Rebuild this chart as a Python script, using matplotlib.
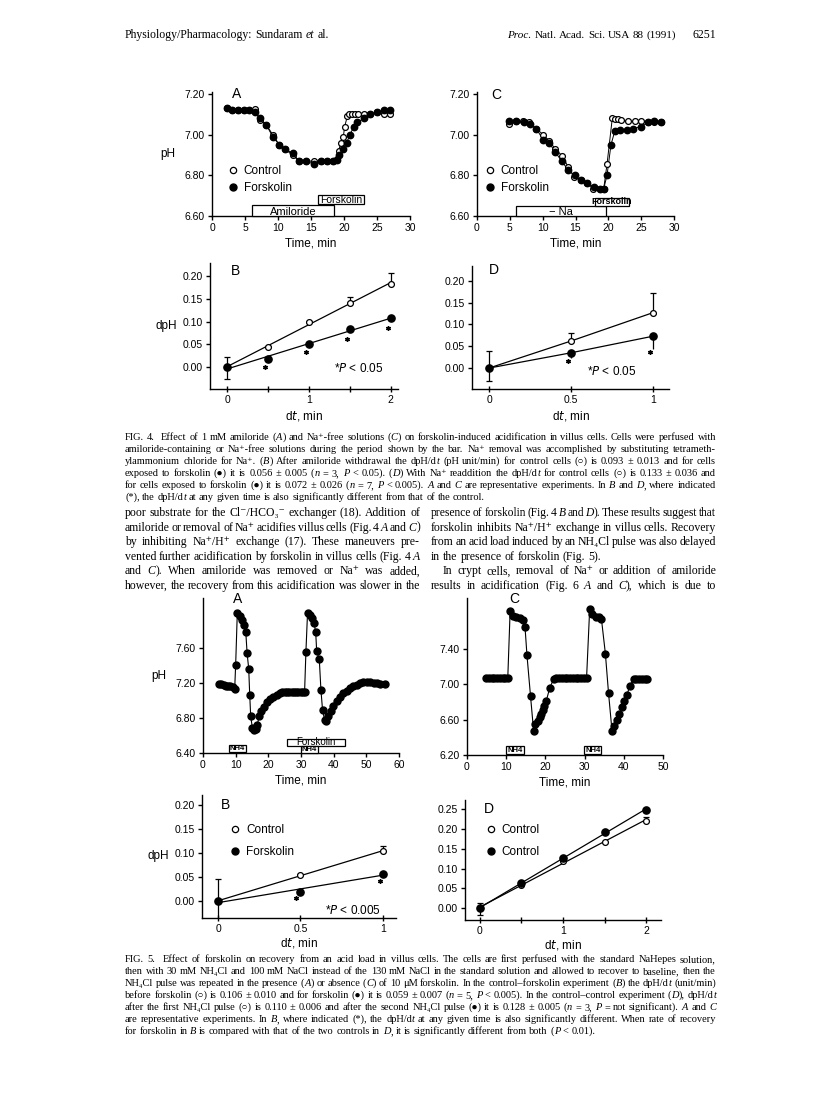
import matplotlib
matplotlib.use('Agg')
import numpy as np
import matplotlib.pyplot as plt
from matplotlib.patches import Rectangle
from matplotlib.lines import Line2D

W, H = 816, 1105
SANS = ['Liberation Sans', 'DejaVu Sans']
SERIF = ['Liberation Serif', 'DejaVu Serif', 'DejaVu Sans']
plt.rcParams['font.family'] = SANS

################################
# Data
################################
# Fig 4A: amiloride, villus cells
t4a_ctl = [2.3, 3.1, 4.0, 4.8, 5.6, 6.5, 7.3, 8.2, 9.2, 10.2, 11.0, 12.2, 13.2, 14.3, 15.4, 16.5, 17.4,
           18.3, 18.9, 19.2, 19.5, 19.9, 20.1, 20.5, 20.8, 21.2, 21.6, 22.1, 23.0, 24.0, 25.0, 26.0, 27.0]
ph4a_ctl = [7.13, 7.12, 7.12, 7.12, 7.12, 7.125, 7.07, 7.05, 7.00, 6.95, 6.93, 6.90, 6.87, 6.87, 6.87, 6.87,
            6.87, 6.87, 6.88, 6.92, 6.96, 6.99, 7.04, 7.09, 7.10, 7.10, 7.10, 7.10, 7.10, 7.10, 7.11, 7.10, 7.10]
t4a_fsk = [2.3, 3.1, 4.0, 4.8, 5.6, 6.5, 7.3, 8.2, 9.2, 10.2, 11.0, 12.2, 13.2, 14.3, 15.4, 16.5, 17.4,
           18.3, 18.9, 19.3, 19.9, 20.4, 20.9, 21.5, 22.0, 23.0, 24.0, 25.0, 26.0, 27.0]
ph4a_fsk = [7.13, 7.12, 7.12, 7.12, 7.12, 7.11, 7.08, 7.05, 6.99, 6.95, 6.93, 6.91, 6.87, 6.87, 6.855, 6.87,
            6.87, 6.87, 6.875, 6.90, 6.93, 6.96, 7.00, 7.04, 7.06, 7.08, 7.10, 7.11, 7.12, 7.12]
bars4a = [(6.0, 18.5, 'Amiloride'), (16.0, 23.0, 'Forskolin')]

# Fig 4C: Na-free, villus cells
t4c_ctl = [4.9, 6.0, 7.0, 7.9, 9.0, 10.1, 11.0, 11.9, 13.0, 13.9, 14.8, 15.8, 16.8, 17.7, 18.7, 19.3,
           19.8, 20.6, 21.0, 21.5, 22.0, 23.0, 24.0, 24.9, 26.0, 27.0, 28.0]
ph4c_ctl = [7.055, 7.065, 7.065, 7.06, 7.03, 7.00, 6.97, 6.93, 6.895, 6.84, 6.79, 6.775, 6.76, 6.735,
            6.735, 6.735, 6.855, 7.08, 7.075, 7.075, 7.07, 7.065, 7.065, 7.065, 7.06, 7.06, 7.06]
t4c_fsk = [4.9, 6.0, 7.1, 8.0, 9.0, 10.1, 11.0, 11.9, 12.9, 13.9, 14.9, 15.8, 16.8, 17.8, 18.7, 19.3,
           19.8, 20.4, 21.0, 21.8, 22.8, 23.8, 24.9, 26.0, 26.9, 28.0]
ph4c_fsk = [7.065, 7.065, 7.06, 7.055, 7.03, 6.975, 6.96, 6.915, 6.87, 6.825, 6.80, 6.775, 6.76, 6.745,
            6.735, 6.735, 6.80, 6.95, 7.02, 7.025, 7.025, 7.03, 7.04, 7.06, 7.065, 7.06]
bars4c = [(6.0, 19.6, '\u2212 Na'), (17.9, 23.2, 'Forskolin')]

# Fig 4B / 4D: dpH vs dt
dt4b = [0, 0.5, 1, 1.5, 2]
ctl4b = [0, 0.044, 0.099, 0.142, 0.182]
fsk4b = [0, 0.018, 0.051, 0.083, 0.107]
ctl4b_up = [0.023, 0.003, 0.003, 0.012, 0.025]
ctl4b_dn = [0.025, 0, 0, 0, 0]
fsk4b_dn = [0, 0.004, 0.003, 0.003, 0.006]
star4b_x = [0.47, 0.97, 1.47, 1.97]
star4b_y = [0.0, 0.033, 0.062, 0.086]

dt4d = [0, 0.5, 1]
ctl4d = [0, 0.062, 0.127]
fsk4d = [0, 0.035, 0.073]
ctl4d_up = [0.04, 0.018, 0.045]
ctl4d_dn = [0.03, 0, 0]
fsk4d_dn = [0, 0.012, 0.03]
star4d_x = [0.48, 0.98]
star4d_y = [0.016, 0.036]

# Fig 5A: NH4Cl pulses, forskolin on second pulse
t5a = [4.9, 5.6, 6.3, 7.0, 7.7, 8.4, 9.1, 9.7, 10.0, 10.5, 11.2, 11.9, 12.6, 13.1, 13.5, 14.0,
       14.3, 14.6, 15.1, 15.6, 16.1, 16.6, 17.2, 17.9, 18.7, 19.7, 20.5, 21.5, 22.5, 23.5, 24.3, 25.0,
       25.7, 26.4, 27.1, 27.8, 28.5, 29.2, 29.9, 30.6, 31.1, 31.5, 32.0, 32.7, 33.4, 34.0, 34.5, 34.8,
       35.6, 36.1, 36.6, 37.2, 37.7, 38.4, 39.2, 39.9, 40.9, 42.0, 43.0, 44.0, 45.0, 46.0, 47.1, 48.1,
       49.1, 50.2, 51.2, 52.2, 53.2, 54.2, 55.8]
ph5a = [7.19, 7.185, 7.18, 7.17, 7.165, 7.16, 7.15, 7.13, 7.41, 8.00, 7.97, 7.92, 7.86, 7.78, 7.54, 7.36,
        7.065, 6.82, 6.69, 6.66, 6.67, 6.72, 6.82, 6.88, 6.93, 6.98, 7.015, 7.04, 7.06, 7.085, 7.095, 7.10,
        7.10, 7.10, 7.10, 7.10, 7.10, 7.10, 7.10, 7.10, 7.10, 7.55, 8.00, 7.98, 7.94, 7.88, 7.78, 7.56,
        7.47, 7.12, 6.89, 6.78, 6.76, 6.82, 6.88, 6.94, 6.99, 7.04, 7.085, 7.11, 7.14, 7.16, 7.18, 7.20,
        7.21, 7.21, 7.21, 7.20, 7.20, 7.19, 7.19]
nh4_5a = [(8.0, 13.1), (30.0, 35.2)]
fsk_5a = (25.8, 43.5)

# Fig 5C: NH4Cl pulses, no forskolin
t5c = [4.9, 5.6, 6.3, 7.0, 7.7, 8.4, 9.1, 9.8, 10.4, 11.0, 11.8, 12.6, 13.4, 14.2, 14.8,
       15.3, 16.2, 17.0, 17.4, 18.0, 18.5, 18.9, 19.3, 19.7, 20.2, 21.1, 22.1,
       22.8, 23.5, 24.2, 24.9, 25.6, 26.3, 27.0, 27.7, 28.4, 29.1, 29.8, 30.5,
       31.3, 32.0, 32.8, 33.6, 34.3, 35.3, 36.1, 37.0, 37.6, 38.3, 38.9, 39.5, 40.1, 40.8, 41.5, 42.5,
       43.2, 43.9, 44.6, 45.3, 45.9]
ph5c = [7.07, 7.07, 7.07, 7.07, 7.07, 7.07, 7.07, 7.07, 7.07, 7.83, 7.78, 7.76, 7.75, 7.73, 7.65,
        7.33, 6.87, 6.47, 6.55, 6.59, 6.63, 6.67, 6.71, 6.75, 6.81, 6.96, 7.06,
        7.07, 7.07, 7.07, 7.07, 7.07, 7.07, 7.07, 7.07, 7.07, 7.07, 7.07, 7.07,
        7.86, 7.80, 7.77, 7.76, 7.74, 7.35, 6.905, 6.47, 6.53, 6.60, 6.67, 6.74, 6.81, 6.88, 6.98, 7.06,
        7.065, 7.065, 7.065, 7.065, 7.065]
nh4_5c = [(10.0, 14.5), (29.8, 34.3)]

# Fig 5B / 5D
dt5b = [0, 0.5, 1]
ctl5b = [0, 0.054, 0.104]
fsk5b = [0, 0.019, 0.057]
ctl5b_up = [0.045, 0.002, 0.01]
ctl5b_dn = [0.04, 0, 0]
star5b_x = [0.47, 0.98]
star5b_y = [0.007, 0.041]

dt5d = [0, 0.5, 1, 1.5, 2]
ctl5d_1 = [0, 0.058, 0.120, 0.168, 0.222]
ctl5d_2 = [0, 0.064, 0.127, 0.193, 0.248]
ctl5d_up = [0.013, 0, 0, 0, 0.008]
ctl5d_dn = [0.017, 0, 0, 0, 0]

################################
# Text
################################
header_left = 'Physiology/Pharmacology: Sundaram _et al._'
header_right = '_Proc. Natl. Acad. Sci. USA 88 (1991)_'
page_no = '6251'

cap4 = [
    'FIG. 4.  Effect of 1 mM amiloride (_A_) and Na\u207a-free solutions (_C_) on forskolin-induced acidification in villus cells. Cells were perfused with',
    'amiloride-containing or Na\u207a-free solutions during the period shown by the bar. Na\u207a removal was accomplished by substituting tetrameth-',
    'ylammonium chloride for Na\u207a. (_B_) After amiloride withdrawal the dpH/d_t_ (pH unit/min) for control cells (\u25cb) is 0.093 \u00b1 0.013 and for cells',
    'exposed to forskolin (\u25cf) it is 0.056 \u00b1 0.005 (_n_ = 3, _P_ < 0.05). (_D_) With Na\u207a readdition the dpH/d_t_ for control cells (\u25cb) is 0.133 \u00b1 0.036 and',
    'for cells exposed to forskolin (\u25cf) it is 0.072 \u00b1 0.026 (_n_ = 7, _P_ < 0.005). _A_ and _C_ are representative experiments. In _B_ and _D_, where indicated',
    '(*), the dpH/d_t_ at any given time is also significantly different from that of the control.',
]
body_left = [
    'poor substrate for the Cl\u207b/HCO\u2083\u207b exchanger (18). Addition of',
    'amiloride or removal of Na\u207a acidifies villus cells (Fig. 4 _A_ and _C_)',
    'by inhibiting Na\u207a/H\u207a exchange (17). These maneuvers pre-',
    'vented further acidification by forskolin in villus cells (Fig. 4 _A_',
    'and _C_). When amiloride was removed or Na\u207a was added,',
    'however, the recovery from this acidification was slower in the',
]
body_right = [
    'presence of forskolin (Fig. 4 _B_ and _D_). These results suggest that',
    'forskolin inhibits Na\u207a/H\u207a exchange in villus cells. Recovery',
    'from an acid load induced by an NH\u2084Cl pulse was also delayed',
    'in the presence of forskolin (Fig. 5).',
    'In crypt cells, removal of Na\u207a or addition of amiloride',
    'results in acidification (Fig. 6 _A_ and _C_), which is due to',
]
cap5 = [
    'FIG. 5.  Effect of forskolin on recovery from an acid load in villus cells. The cells are first perfused with the standard NaHepes solution,',
    'then with 30 mM NH\u2084Cl and 100 mM NaCl instead of the 130 mM NaCl in the standard solution and allowed to recover to baseline, then the',
    'NH\u2084Cl pulse was repeated in the presence (_A_) or absence (_C_) of 10 \u03bcM forskolin. In the control\u2013forskolin experiment (_B_) the dpH/d_t_ (unit/min)',
    'before forskolin (\u25cb) is 0.106 \u00b1 0.010 and for forskolin (\u25cf) it is 0.059 \u00b1 0.007 (_n_ = 5, _P_ < 0.005). In the control\u2013control experiment (_D_), dpH/d_t_',
    'after the first NH\u2084Cl pulse (\u25cb) is 0.110 \u00b1 0.006 and after the second NH\u2084Cl pulse (\u25cf) it is 0.128 \u00b1 0.005 (_n_ = 3, _P_ = not significant). _A_ and _C_',
    'are representative experiments. In _B_, where indicated (*), the dpH/d_t_ at any given time is also significantly different. When rate of recovery',
    'for forskolin in _B_ is compared with that of the two controls in _D_, it is significantly different from both (_P_ < 0.01).',
]

################################
# Figure
################################
fig = plt.figure(figsize=(W / 100, H / 100), dpi=100)
fig.patch.set_facecolor('white')
renderer = fig.canvas.get_renderer()


def add_ax(x0, x1, y0, y1):
    ax = fig.add_axes([x0 / W, 1 - y1 / H, (x1 - x0) / W, (y1 - y0) / H])
    ax.patch.set_alpha(0)
    for s in ['top', 'right']:
        ax.spines[s].set_visible(False)
    for s in ['left', 'bottom']:
        ax.spines[s].set_linewidth(1.0)
    ax.tick_params(direction='out', length=3, width=1.0, labelsize=7.5, pad=2)
    return ax


def build_words(line, size):
    # a doubled space becomes a wider gap, kept as an empty word
    words = []
    for w in line.split(' '):
        parts = []
        for i, p in enumerate(w.split('_')):
            if p:
                parts.append(fig.text(0, 0, p, fontsize=size, family=SERIF,
                                      style='italic' if i % 2 else 'normal',
                                      va='baseline', ha='left'))
        words.append((parts, [t.get_window_extent(renderer).width for t in parts]))
    return words


def text_line(line, x0, x1, y, size, justify=True, ha='left'):
    """Place one line of serif text; '_' toggles italics. Shrinks a little if it cannot fit."""
    while True:
        words = build_words(line, size)
        total = sum(sum(ws) for _, ws in words)
        space = size * 0.25 * 100 / 72
        n = len(words)
        need = total + 0.55 * space * (n - 1)
        if not justify or need <= (x1 - x0) or size < 5:
            break
        for parts, _ in words:
            for t in parts:
                t.remove()
        size *= max(0.9, (x1 - x0) / need * 0.998)
    gap = (x1 - x0 - total) / (n - 1) if (justify and n > 1) else space
    x = x1 - total - space * (n - 1) if ha == 'right' else x0
    for parts, ws in words:
        for t, wd in zip(parts, ws):
            t.set_position((x / W, 1 - y / H))
            x += wd
        x += gap


def open_pts(ax, x, y, ms=4.2, **kw):
    ax.plot(x, y, 'o', ms=ms, mfc='white', mec='black', mew=0.9, ls='', zorder=4, **kw)


def filled_pts(ax, x, y, ms=4.6, **kw):
    ax.plot(x, y, 'o', ms=ms, color='black', ls='', zorder=5, **kw)


def period_box(ax, t0, t1, y0, y1, label, size=7.5, weight='normal', ty=None):
    ax.add_patch(Rectangle((t0, y0), t1 - t0, y1 - y0, fc='white', ec='black', lw=0.9,
                           clip_on=False, zorder=3))
    ax.text((t0 + t1) / 2, (y0 + y1) / 2 if ty is None else ty, label, ha='center', va='center',
            fontsize=size, weight=weight, zorder=4, clip_on=False)


legend_kw = dict(frameon=False, handlelength=0.6, handletextpad=0.6,
                 borderaxespad=0, fontsize=8.5, loc='upper left')
h_open = Line2D([], [], marker='o', ls='', mfc='white', mec='black', mew=0.9, ms=4.5)
h_fill = Line2D([], [], marker='o', ls='', color='black', ms=5)
star_kw = dict(marker=(6, 2, 0), ms=3.2, mew=1.0, color='black', ls='')

# ---- Fig 4A ----
ax = add_ax(212, 410, 92, 216)
ax.plot(t4a_ctl, ph4a_ctl, color='black', lw=0.7, zorder=2)
ax.plot(t4a_fsk, ph4a_fsk, color='black', lw=0.7, zorder=2)
open_pts(ax, t4a_ctl, ph4a_ctl)
filled_pts(ax, t4a_fsk, ph4a_fsk)
ax.set_xlim(0, 30)
ax.set_ylim(6.6, 7.21)
ax.set_xticks(np.arange(0, 31, 5))
ax.set_yticks([6.6, 6.8, 7.0, 7.2])
ax.set_yticklabels(['%.2f' % v for v in [6.6, 6.8, 7.0, 7.2]])
ax.set_xlabel('Time, min', fontsize=8.5, labelpad=3)
ax.set_ylabel('pH', fontsize=8.5, rotation=0, labelpad=12, va='center')
period_box(ax, bars4a[0][0], bars4a[0][1], 6.60, 6.655, bars4a[0][2], size=8, ty=6.622)
period_box(ax, bars4a[1][0], bars4a[1][1], 6.657, 6.705, bars4a[1][2], size=7.5)
ax.text(3.0, 7.20, 'A', fontsize=10, va='center')
ax.legend([h_open, h_fill], ['Control', 'Forskolin'], bbox_to_anchor=(0.065, 0.45),
          labelspacing=0.45, **legend_kw)

# ---- Fig 4C ----
ax = add_ax(477, 674, 92, 216)
ax.plot(t4c_ctl, ph4c_ctl, color='black', lw=0.7, zorder=2)
ax.plot(t4c_fsk, ph4c_fsk, color='black', lw=0.7, zorder=2)
filled_pts(ax, t4c_fsk, ph4c_fsk)
open_pts(ax, t4c_ctl, ph4c_ctl)
ax.set_xlim(0, 30)
ax.set_ylim(6.6, 7.21)
ax.set_xticks(np.arange(0, 31, 5))
ax.set_yticks([6.6, 6.8, 7.0, 7.2])
ax.set_yticklabels(['%.2f' % v for v in [6.6, 6.8, 7.0, 7.2]])
ax.set_xlabel('Time, min', fontsize=8.5, labelpad=3)
period_box(ax, bars4c[0][0], bars4c[0][1], 6.60, 6.648, bars4c[0][2], size=8, ty=6.622)
period_box(ax, bars4c[1][0], bars4c[1][1], 6.648, 6.69, bars4c[1][2], size=6.5, weight='bold')
ax.text(2.2, 7.195, 'C', fontsize=10, va='center')
ax.legend([h_open, h_fill], ['Control', 'Forskolin'], bbox_to_anchor=(0.025, 0.45),
          labelspacing=0.45, **legend_kw)

# ---- Fig 4B ----
ax = add_ax(210, 398, 263, 389)
xs = np.array([0, 2])
for yv in [ctl4b, fsk4b]:
    k = np.polyfit(dt4b, yv, 1)
    ax.plot(xs, np.polyval(k, xs), color='black', lw=0.9, zorder=2)
ax.errorbar(dt4b, ctl4b, yerr=[ctl4b_dn, ctl4b_up], fmt='none', ecolor='black', elinewidth=0.9,
            capsize=2, capthick=0.9, zorder=3)
ax.errorbar(dt4b, fsk4b, yerr=[fsk4b_dn, np.zeros(5)], fmt='none', ecolor='black', elinewidth=0.9,
            capsize=0, zorder=3)
open_pts(ax, dt4b, ctl4b)
filled_pts(ax, dt4b, fsk4b, ms=5.2)
ax.plot(star4b_x, star4b_y, **star_kw)
ax.set_xlim(-0.208, 2.09)
ax.set_ylim(-0.048, 0.229)
ax.set_xticks([0, 1, 2])
ax.set_xticks([0.5, 1.5], minor=True)
ax.tick_params(axis='x', which='both', direction='inout', length=5, width=1.0)
ax.set_yticks([0, 0.05, 0.10, 0.15, 0.20])
ax.set_yticklabels(['%.2f' % v for v in [0, 0.05, 0.10, 0.15, 0.20]])
ax.set_xlabel('d$\\it{t}$, min', fontsize=8.5, labelpad=3)
ax.set_ylabel('dpH', fontsize=8.5, rotation=0, labelpad=12, va='center')
ax.text(0.05, 0.212, 'B', fontsize=10, va='center')
ax.text(1.31, -0.003, '*$\\it{P}$ < 0.05', fontsize=8.5, va='center')

# ---- Fig 4D ----
ax = add_ax(472, 669, 266, 389)
ax.plot(dt4d, ctl4d, color='black', lw=0.9, zorder=2)
ax.plot(dt4d, fsk4d, color='black', lw=0.9, zorder=2)
ax.errorbar(dt4d, ctl4d, yerr=[ctl4d_dn, ctl4d_up], fmt='none', ecolor='black', elinewidth=0.9,
            capsize=2, capthick=0.9, zorder=3)
ax.errorbar(dt4d, fsk4d, yerr=[fsk4d_dn, np.zeros(3)], fmt='none', ecolor='black', elinewidth=0.9,
            capsize=0, zorder=3)
open_pts(ax, dt4d, ctl4d)
filled_pts(ax, dt4d, fsk4d, ms=5.2)
ax.plot(star4d_x, star4d_y, **star_kw)
ax.set_xlim(-0.104, 1.098)
ax.set_ylim(-0.048, 0.234)
ax.set_xticks([0, 0.5, 1])
ax.set_xticklabels(['0', '0.5', '1'])
ax.tick_params(axis='x', direction='inout', length=5, width=1.0)
ax.set_yticks([0, 0.05, 0.10, 0.15, 0.20])
ax.set_yticklabels(['%.2f' % v for v in [0, 0.05, 0.10, 0.15, 0.20]])
ax.set_xlabel('d$\\it{t}$, min', fontsize=8.5, labelpad=3)
ax.text(0.0, 0.225, 'D', fontsize=10, va='center')
ax.text(0.6, -0.008, '*$\\it{P}$ < 0.05', fontsize=8.5, va='center')

# ---- Fig 5A ----
ax = add_ax(203, 399, 598, 753)
ax.plot(t5a, ph5a, color='black', lw=0.8, zorder=2)
filled_pts(ax, t5a, ph5a, ms=5.0)
ax.set_xlim(0, 60)
ax.set_ylim(6.40, 8.17)
ax.set_xticks(np.arange(0, 61, 10))
ax.set_yticks([6.4, 6.8, 7.2, 7.6])
ax.set_yticklabels(['%.2f' % v for v in [6.4, 6.8, 7.2, 7.6]])
ax.set_xlabel('Time, min', fontsize=8.5, labelpad=3)
ax.set_ylabel('pH', fontsize=8.5, rotation=0, labelpad=12, va='center')
period_box(ax, fsk_5a[0], fsk_5a[1], 6.48, 6.56, 'Forskolin', size=7)
for a, b in nh4_5a:
    period_box(ax, a, b, 6.40 if a > 20 else 6.41, 6.475 if a > 20 else 6.49,
               'NH4', size=5.5, weight='bold')
ax.text(10.7, 8.16, 'A', fontsize=10, ha='center', va='center', clip_on=False)

# ---- Fig 5C ----
ax = add_ax(467, 663, 598, 755)
ax.plot(t5c, ph5c, color='black', lw=0.8, zorder=2)
filled_pts(ax, t5c, ph5c, ms=5.0)
ax.set_xlim(0, 50)
ax.set_ylim(6.20, 7.98)
ax.set_xticks(np.arange(0, 51, 10))
ax.set_yticks([6.2, 6.6, 7.0, 7.4])
ax.set_yticklabels(['%.2f' % v for v in [6.2, 6.6, 7.0, 7.4]])
ax.set_xlabel('Time, min', fontsize=8.5, labelpad=3)
for a, b in nh4_5c:
    period_box(ax, a, b, 6.21, 6.30, 'NH4', size=5.5, weight='bold')
ax.text(12.0, 7.97, 'C', fontsize=10, ha='center', va='center', clip_on=False)

# ---- Fig 5B ----
ax = add_ax(202, 396, 795, 918)
xs = np.array([0, 1])
for yv in [ctl5b, fsk5b]:
    k = np.polyfit(dt5b, yv, 1)
    ax.plot(xs, np.polyval(k, xs), color='black', lw=0.9, zorder=2)
ax.errorbar(dt5b, ctl5b, yerr=[ctl5b_dn, ctl5b_up], fmt='none', ecolor='black', elinewidth=0.9,
            capsize=2, capthick=0.9, zorder=3)
open_pts(ax, dt5b, ctl5b)
filled_pts(ax, dt5b, fsk5b, ms=5.2)
ax.plot(star5b_x, star5b_y, **star_kw)
ax.set_xlim(-0.097, 1.079)
ax.set_ylim(-0.035, 0.22)
ax.set_xticks([0, 0.5, 1])
ax.set_xticklabels(['0', '0.5', '1'])
ax.tick_params(axis='x', direction='inout', length=5, width=1.0)
ax.set_yticks([0, 0.05, 0.10, 0.15, 0.20])
ax.set_yticklabels(['%.2f' % v for v in [0, 0.05, 0.10, 0.15, 0.20]])
ax.set_xlabel('d$\\it{t}$, min', fontsize=8.5, labelpad=1)
ax.set_ylabel('dpH', fontsize=8.5, rotation=0, labelpad=12, va='center')
ax.text(0.02, 0.20, 'B', fontsize=10, va='center')
ax.text(0.65, -0.02, '*$\\it{P}$ < 0.005', fontsize=8.5, va='center')
ax.legend([h_open, h_fill], ['Control', 'Forskolin'], bbox_to_anchor=(0.13, 0.80),
          labelspacing=0.85, **legend_kw)

# ---- Fig 5D ----
ax = add_ax(465, 661, 800, 920)
xs = np.array([0, 2])
for yv in [ctl5d_1, ctl5d_2]:
    k = np.polyfit(dt5d, yv, 1)
    ax.plot(xs, np.polyval(k, xs), color='black', lw=0.9, zorder=2)
ax.errorbar(dt5d, ctl5d_1, yerr=[ctl5d_dn, ctl5d_up], fmt='none', ecolor='black', elinewidth=0.9,
            capsize=2, capthick=0.9, zorder=3)
filled_pts(ax, dt5d, ctl5d_2, ms=5.2)
open_pts(ax, dt5d, ctl5d_1)
ax.set_xlim(-0.18, 2.18)
ax.set_ylim(-0.03, 0.274)
ax.set_xticks([0, 1, 2])
ax.set_xticks([0.5, 1.5], minor=True)
ax.tick_params(axis='x', which='both', direction='inout', length=5, width=1.0)
ax.set_yticks([0, 0.05, 0.10, 0.15, 0.20, 0.25])
ax.set_yticklabels(['%.2f' % v for v in [0, 0.05, 0.10, 0.15, 0.20, 0.25]])
ax.set_xlabel('d$\\it{t}$, min', fontsize=8.5, labelpad=1)
ax.text(0.05, 0.25, 'D', fontsize=10, va='center')
ax.legend([h_open, h_fill], ['Control', 'Control'], bbox_to_anchor=(0.09, 0.84),
          labelspacing=0.85, **legend_kw)

################################
# Page text
################################
text_line(header_left, 125, 400, 38, 8.5, justify=False)
text_line(header_right, 400, 676, 38, 8.0, justify=False, ha='right')
text_line(page_no, 600, 716, 38, 8.5, justify=False, ha='right')

for i, line in enumerate(cap4):
    last = i == len(cap4) - 1
    text_line(line, 125, 716, 440 + i * 12.0, 7.45, justify=not last)
for i, line in enumerate(body_left):
    text_line(line, 125, 420, 516 + i * 14.6, 8.5)
for i, line in enumerate(body_right):
    x0 = 443 if i == 4 else 431
    text_line(line, x0, 716, 516 + i * 14.6, 8.5, justify=(i != 3))
for i, line in enumerate(cap5):
    last = i == len(cap5) - 1
    text_line(line, 125, 716, 962 + i * 12.0, 7.45, justify=not last)

fig.savefig('out.png', dpi=100)
